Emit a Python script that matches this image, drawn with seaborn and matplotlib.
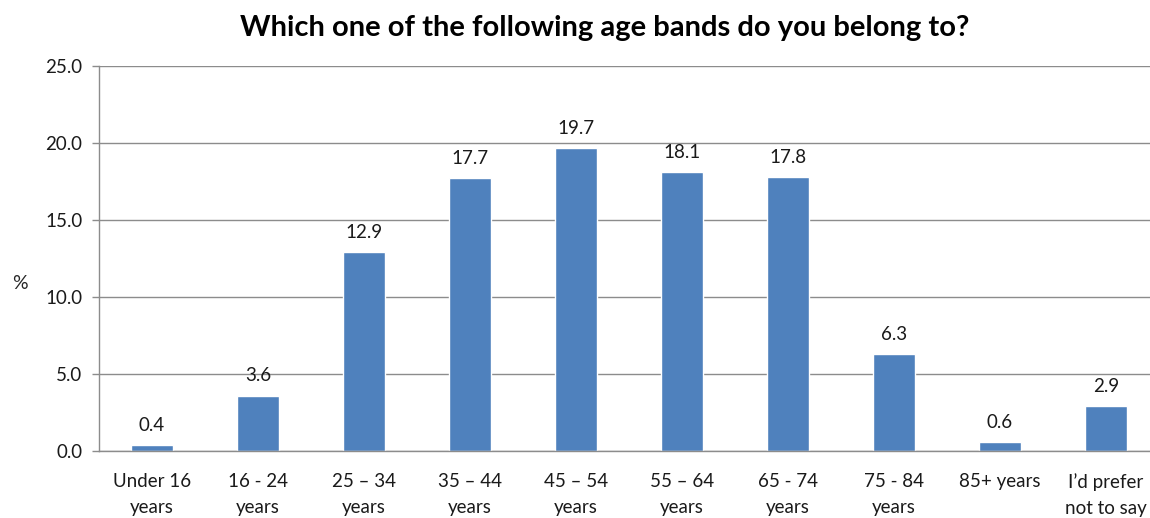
import pandas as pd
import matplotlib.pyplot as plt
import seaborn as sns

categories = ["Under 16\nyears", "16 - 24\nyears", "25 \u2013 34\nyears", "35 \u2013 44\nyears",
              "45 \u2013 54\nyears", "55 \u2013 64\nyears", "65 - 74\nyears", "75 - 84\nyears",
              "85+ years", "I\u2019d prefer\nnot to say"]
values = [0.4, 3.6, 12.9, 17.7, 19.7, 18.1, 17.8, 6.3, 0.6, 2.9]
y_ticks = [0, 5, 10, 15, 20, 25]

df = pd.DataFrame({"band": categories, "pct": values})

sns.set_style("white")
plt.rcParams['font.family'] = ['Lato', 'DejaVu Sans']

fig = plt.figure(figsize=(11.5, 5.18), dpi=100)
ax = fig.add_axes([99/1150, 67/518, 1060/1150, 385/518])

sns.barplot(data=df, x="band", y="pct", color="#4F81BD", saturation=1, width=0.4, ax=ax)

for i, v in enumerate(values):
    ax.annotate(f"{v:.1f}", (i, v), xytext=(0, 8), textcoords="offset points",
                ha="center", va="bottom", fontsize=13.5, color="#1a1a1a")

ax.set_ylim(0, 25)
ax.set_xlim(-0.5, len(categories) - 0.5)
ax.set_yticks(y_ticks)
ax.set_yticklabels([f"{t:.1f}" for t in y_ticks], fontsize=13.5, color="#1a1a1a")
ax.yaxis.grid(True, color="#8c8c8c", linewidth=1)
ax.set_axisbelow(True)

# category boundary ticks like Excel
ax.set_xticks([i + 0.5 for i in range(-1, len(categories))], minor=True)
ax.tick_params(axis="x", which="minor", length=7, width=1, color="#8c8c8c", direction="out")
ax.tick_params(axis="x", which="major", length=0, labelsize=13.5, pad=16, labelcolor="#1a1a1a")
ax.tick_params(axis="y", length=5, width=1, color="#8c8c8c", direction="out", pad=7, left=True)

for s in ["top", "right"]:
    ax.spines[s].set_visible(False)
for s in ["left", "bottom"]:
    ax.spines[s].set_color("#8c8c8c")
    ax.spines[s].set_linewidth(1)

# single-line label sits at top like the others
for lbl in ax.get_xticklabels():
    lbl.set_va("top")
    lbl.set_linespacing(1.65)

ax.set_xlabel("")
ax.set_ylabel("%", rotation=0, fontsize=14, labelpad=0, va="center")
ax.yaxis.set_label_coords(-79/1060, 0.436)

fig.text(605/1150, 1 - 28/518, "Which one of the following age bands do you belong to?",
         ha="center", va="center", fontsize=21, fontweight="bold", color="black")

fig.savefig("out.png", dpi=100)
